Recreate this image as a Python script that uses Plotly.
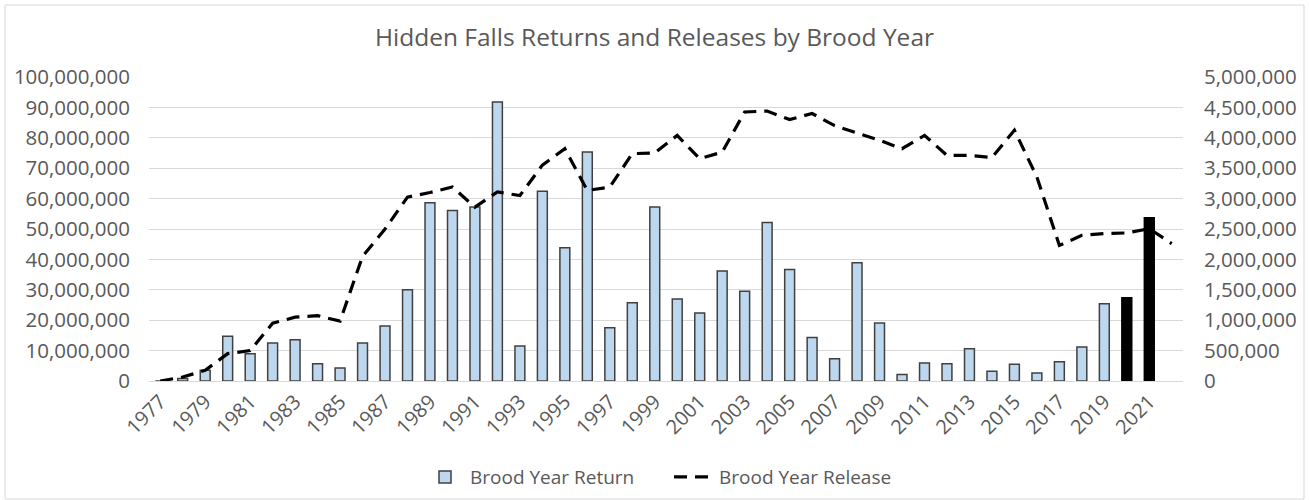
import plotly.graph_objects as go

years = list(range(1977, 2023))
returns = [0, 40000, 175000, 735000, 450000, 625000, 680000, 285000, 215000, 625000,
           905000, 1500000, 2930000, 2805000, 2860000, 4590000, 575000, 3120000, 2190000, 3765000,
           875000, 1285000, 2860000, 1350000, 1120000, 1810000, 1475000, 2605000, 1835000, 715000,
           365000, 1945000, 955000, 105000, 295000, 285000, 530000, 160000, 275000, 130000,
           315000, 560000, 1270000, 1370000, 2685000, None]
releases = [0, 1300000, 3500000, 9000000, 10000000, 19000000, 21000000, 21500000, 19700000, 41000000,
            50000000, 60500000, 62000000, 63800000, 57200000, 62200000, 61000000, 71000000, 76400000, 62700000,
            63800000, 74800000, 75000000, 80800000, 73100000, 75300000, 88500000, 88800000, 86000000, 88000000,
            84000000, 81500000, 79200000, 76400000, 80800000, 74200000, 74200000, 73500000, 82500000, 67100000,
            44600000, 47900000, 48500000, 48700000, 50100000, 45200000]
highlight_years = [2020, 2021]
tick_years = list(range(1977, 2022, 2))

bar_colors = ["#000000" if y in highlight_years else "#BDD7EE" for y in years]
line_colors = ["#000000" if y in highlight_years else "#404040" for y in years]

FONT = "Open Sans"
GRAY = "#595959"

fig = go.Figure()
fig.add_trace(go.Bar(
    x=years, y=returns, name="Brood Year Return", yaxis="y",
    marker=dict(color=bar_colors, line=dict(color=line_colors, width=1.5)),
))
fig.add_trace(go.Scatter(
    x=years, y=releases, name="Brood Year Release", yaxis="y2", mode="lines",
    line=dict(color="#000000", width=3.2, dash="13px,8px"),
))

fig.update_layout(
    width=1309, height=500,
    margin=dict(l=149, r=126, t=77, b=119, autoexpand=False),
    paper_bgcolor="white", plot_bgcolor="white",
    font=dict(family=FONT, color=GRAY),
    title=dict(text="Hidden Falls Returns and Releases by Brood Year",
               x=0.5, xref="container", xanchor="center", y=0.925, yanchor="middle",
               font=dict(size=24.5, color=GRAY, family=FONT)),
    bargap=0.56,
    showlegend=True,
    legend=dict(orientation="h", x=(420 - 149) / 1034, xanchor="left", y=-0.316, yanchor="middle",
                font=dict(size=19, color=GRAY), traceorder="normal", itemwidth=40,
                entrywidth=194),
    xaxis=dict(range=[1976.5, 2022.5], tickmode="array", tickvals=tick_years,
               ticktext=[str(y) for y in tick_years], tickangle=-45,
               tickfont=dict(size=20, color=GRAY), showgrid=False, zeroline=False,
               showline=True, linecolor="#D9D9D9", linewidth=1, ticks="", automargin=False),
    yaxis=dict(side="right", range=[0, 5000000], dtick=500000, tickformat=",",
               tickfont=dict(size=20.5, color=GRAY), showgrid=True, gridcolor="#D9D9D9",
               gridwidth=1, zeroline=False, ticklabelstandoff=20, automargin=False),
    yaxis2=dict(side="left", overlaying="y", range=[0, 100000000], dtick=10000000,
                tickformat=",", tickfont=dict(size=20.5, color=GRAY), showgrid=False,
                zeroline=False, ticklabelstandoff=18, automargin=False),
    shapes=[dict(type="rect", xref="paper", yref="paper",
                 x0=(5 - 149) / 1034, x1=(1304 - 149) / 1034,
                 y0=(381 - 499) / 304, y1=(381 - 5) / 304,
                 line=dict(color="#D9D9D9", width=1), fillcolor="rgba(0,0,0,0)", layer="below")],
)

fig.write_html("out.html", config={"displayModeBar": False},
               post_script="document.body.style.margin='0';document.body.style.padding='0';")
